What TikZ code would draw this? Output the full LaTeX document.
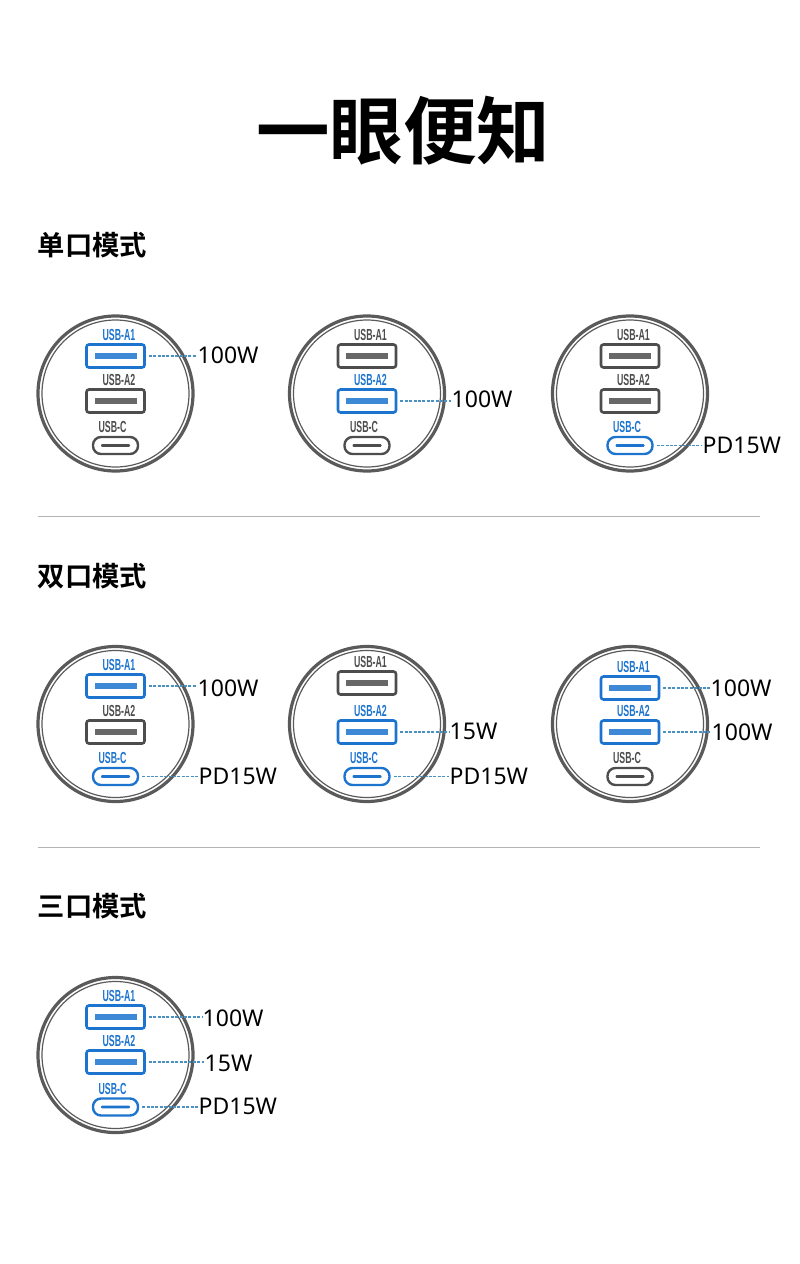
\documentclass[tikz,border=0pt]{standalone}
\usepackage{fontspec}
\usetikzlibrary{positioning}
\setmainfont{Noto Sans}
\newfontfamily\cjk[BoldFont={Noto Sans CJK SC Bold}]{Noto Sans CJK SC}
\newfontfamily\portfont[FakeStretch=0.55]{Liberation Sans}
\definecolor{hot}{HTML}{1C74CF}
\definecolor{idle}{HTML}{4D4D4D}
\definecolor{rim}{HTML}{5A5A5A}
\definecolor{leadc}{HTML}{4A90C0}
\definecolor{sepc}{HTML}{B4B4B4}
% one charger face: id, centre x, centre y, y of A1, A2, C, colour of A1, A2, C
\newcommand{\charger}[9]{
\node[rimout] (#1) at (#2,#3) {};
\node[rimin] at (#1) {};
\node[porta, draw=#7] (#1a1) at (#2,#4) {};
\node[bara, fill=#7!85!white] at (#1a1) {};
\node[portname, text=#7, above=2.5pt of #1a1, xshift=3.5pt] (#1n1) {USB-A1};
\node[porta, draw=#8] (#1a2) at (#2,#5) {};
\node[bara, fill=#8!85!white] at (#1a2) {};
\node[portname, text=#8, above=2.5pt of #1a2, xshift=3.5pt] (#1n2) {USB-A2};
\node[portc, draw=#9] (#1c) at (#2,#6) {};
\node[barc, fill=#9] at (#1c) {};
\node[portname, text=#9, above=2.5pt of #1c, xshift=-3pt] (#1n3) {USB-C};
}
% dashed lead from a port to its wattage: port, text, label name, x, y
\newcommand{\watt}[5]{
\node[wattage] (#3) at (#4,#5) {#2};
\draw[lead] (#1.east) -- (#1.east -| #3.west);
}
\begin{document}
\begin{tikzpicture}[x=1pt, y=-1pt,
  rimout/.style={circle, draw=rim, line width=3.2pt, minimum size=155pt, inner sep=0pt},
  rimin/.style={circle, draw=rim, line width=1.2pt, minimum size=147pt, inner sep=0pt},
  porta/.style={rectangle, rounded corners=2.5pt, line width=2.6pt, minimum width=58pt, minimum height=23pt, inner sep=0pt},
  bara/.style={rectangle, minimum width=42pt, minimum height=6pt, inner sep=0pt},
  portc/.style={rectangle, rounded corners=8pt, line width=2.4pt, minimum width=45pt, minimum height=17pt, inner sep=0pt},
  barc/.style={rectangle, rounded corners=1pt, minimum width=29pt, minimum height=2.6pt, inner sep=0pt},
  portname/.style={font=\portfont\bfseries\fontsize{16}{16}\selectfont, inner sep=0pt},
  wattage/.style={anchor=west, font=\fontsize{23}{23}\selectfont, inner sep=0.5pt},
  lead/.style={draw=leadc, line width=1.1pt, dash pattern=on 3pt off 1.4pt, shorten <=3pt},
  sect/.style={anchor=west, font=\cjk\bfseries\fontsize{27.3}{27.3}\selectfont, inner sep=0pt},
  sep/.style={draw=sepc, line width=0.8pt}]
\useasboundingbox (0,0) rectangle (800,1264);
\node[font=\cjk\bfseries\fontsize{73.5}{73.5}\selectfont, inner sep=0pt] (title) at (403,131) {一眼便知};
\node[sect] (s1) at (37.5,245) {单口模式};
\node[sect] (s2) at (37.5,576) {双口模式};
\node[sect] (s3) at (37.5,906) {三口模式};
\draw[sep] (38,516.5) -- (760,516.5);
\draw[sep] (38,847.5) -- (760,847.5);
% single port
\charger{pa}{115.5}{393.5}{356}{401}{445.5}{hot}{idle}{idle}
\watt{paa1}{100W}{wa}{197}{355}
\charger{pb}{367}{393.5}{356}{401}{445.5}{idle}{hot}{idle}
\watt{pba2}{100W}{wb}{451}{399}
\charger{pc}{630}{393.5}{356}{401}{445.5}{idle}{idle}{hot}
\watt{pcc}{PD15W}{wc}{702}{445}
% two ports
\charger{pd}{115.5}{724}{686}{732}{776.5}{hot}{idle}{hot}
\watt{pda1}{100W}{wd}{197}{688}
\watt{pdc}{PD15W}{we}{198}{776}
\charger{pe}{367}{724}{683}{732}{776.5}{idle}{hot}{hot}
\watt{pea2}{15W}{wf}{449}{731}
\watt{pec}{PD15W}{wg}{449}{776}
\charger{pf}{630}{724}{688}{732}{776.5}{hot}{hot}{idle}
\watt{pfa1}{100W}{wh}{710}{688}
\watt{pfa2}{100W}{wi}{711}{732}
% three ports
\charger{pg}{115.5}{1055}{1017}{1062}{1107}{hot}{hot}{hot}
\watt{pga1}{100W}{wj}{202}{1018}
\watt{pga2}{15W}{wk}{204}{1063}
\watt{pgc}{PD15W}{wl}{198}{1106}
\end{tikzpicture}
\end{document}
